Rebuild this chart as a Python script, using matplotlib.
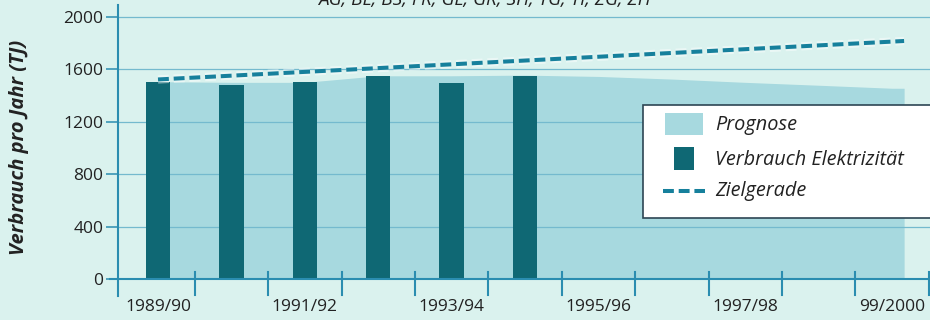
import matplotlib
matplotlib.use("Agg")
import matplotlib.pyplot as plt
from matplotlib.patches import Rectangle
from matplotlib.lines import Line2D
import matplotlib.patheffects as pe
import matplotlib.transforms as mtransforms

# ---- data -------------------------------------------------------------
seasons = ["1989/90", "1990/91", "1991/92", "1992/93", "1993/94", "1994/95",
           "1995/96", "1996/97", "1997/98", "1998/99", "1999/2000"]
tick_labels = ["1989/90", "1991/92", "1993/94", "1995/96", "1997/98", "99/2000"]
verbrauch = [1505, 1480, 1500, 1550, 1497, 1552]          # measured consumption
prognose = [1505, 1500, 1500, 1550, 1550, 1555, 1545, 1525, 1500, 1478, 1455]
ziel_start, ziel_end = 1522, 1815                          # target line
y_ticks = [0, 400, 800, 1200, 1600, 2000]
regions = "AG, BL, BS, FR, GL, GR, SH, TG, TI, ZG, ZH"

# ---- style ------------------------------------------------------------
BG = "#daf2ee"
AREA = "#a7d9df"
BAR = "#0f6874"
ZIEL = "#16809c"
GRID = "#74bace"
AXIS = "#2a8db0"
TEXT = "#222222"
FONT = "Open Sans"

W, H = 930, 320
fig = plt.figure(figsize=(W / 100, H / 100), dpi=100, facecolor=BG)


def fx(px):
    return px / W


def fy(py):
    return 1 - py / H


ax_left, ax_right, ax_top, ax_bottom = 118, 930, 5, 279.3
ax = fig.add_axes([fx(ax_left), fy(ax_bottom), fx(ax_right - ax_left),
                   (ax_bottom - ax_top) / H])
ax.set_facecolor(BG)

slot_px = 73.4
first_center = 158
ax.set_xlim((ax_left - first_center) / slot_px, (ax_right - first_center) / slot_px)
ax.set_ylim(0, 2000 + (16.7 - ax_top) / 0.13135)

x = list(range(len(seasons)))
bar_w = 0.33

# forecast area, spanning from the first bar edge to the last slot's bar edge
area_x = [x[0] - bar_w / 2] + x + [x[-1] + bar_w / 2]
area_y = [prognose[0]] + prognose + [prognose[-1]]
ax.fill_between(area_x, 0, area_y, color=AREA, lw=0, zorder=1)

# horizontal grid
for v in y_ticks[1:]:
    ax.axhline(v, color=GRID, lw=0.9, zorder=1.5)

# consumption bars
ax.bar(x[:len(verbrauch)], verbrauch, width=bar_w, color=BAR, zorder=2)

# target line
zx = [x[0], x[-1] + bar_w / 2]
ax.plot(zx, [ziel_start, ziel_end], color=ZIEL, lw=2.9, dashes=(2.7, 1.2),
        solid_capstyle="butt", dash_capstyle="butt", zorder=3,
        path_effects=[pe.Stroke(linewidth=6, foreground="white", alpha=0.45),
                      pe.Normal()])

# axes lines drawn a bit past the plotting area
for s in ax.spines.values():
    s.set_visible(False)
ax.add_line(Line2D([0, 0], [-(296 - ax_bottom) / (ax_bottom - ax_top), 1],
                   transform=ax.transAxes, color=AXIS, lw=1.5, clip_on=False, zorder=4))
ax.add_line(Line2D([-(ax_left - 110) / (ax_right - ax_left), 1], [0, 0],
                   transform=ax.transAxes, color=AXIS, lw=1.5, clip_on=False, zorder=4))

# x tick marks at season boundaries (crossing the axis)
blend = mtransforms.blended_transform_factory(ax.transData, ax.transAxes)
axh = ax_bottom - ax_top
for b in [k + 0.5 for k in x]:
    ax.add_line(Line2D([b, b], [7 / axh, -16 / axh], transform=blend,
                       color=AXIS, lw=1.5, clip_on=False, zorder=4))

# x labels on every second season
ax.set_xticks(x[::2])
ax.set_xticklabels(tick_labels, family=FONT, fontsize=12.5, color=TEXT)
ax.tick_params(axis="x", length=0, pad=14)

ax.set_yticks(y_ticks)
ax.set_yticklabels([str(v) for v in y_ticks], family=FONT, fontsize=12.5, color=TEXT)
ax.tick_params(axis="y", direction="out", length=8.6, width=1.1, color=AXIS, pad=2)

# y axis title
fig.text(fx(19), fy(147.5), "Verbrauch pro Jahr (TJ)", rotation=90,
         ha="center", va="center", family=FONT, fontsize=14.5,
         fontweight="bold", fontstyle="italic", color=TEXT)

# region list above the chart
fig.text(fx(484), fy(5), regions, ha="center", va="baseline",
         family=FONT, fontsize=13.7, fontstyle="italic", color=TEXT)

# legend box
fig.add_artist(Rectangle((fx(643), fy(218)), fx(940 - 643), (218 - 105) / H,
                         transform=fig.transFigure, facecolor="white",
                         edgecolor="#2d4654", lw=1.2, zorder=10))
fig.add_artist(Rectangle((fx(665), fy(135)), fx(38), 22 / H,
                         transform=fig.transFigure, facecolor=AREA, lw=0, zorder=11))
fig.add_artist(Rectangle((fx(674), fy(170)), fx(20), 23 / H,
                         transform=fig.transFigure, facecolor=BAR, lw=0, zorder=11))
fig.add_artist(Line2D([fx(663), fx(705)], [fy(191), fy(191)],
                      transform=fig.transFigure, color=ZIEL, lw=2.9,
                      dashes=(2.7, 1.2), dash_capstyle="butt", zorder=11))
for label, base in [("Prognose", 130), ("Verbrauch Elektrizität", 165),
                    ("Zielgerade", 196)]:
    fig.text(fx(715), fy(base), label, ha="left", va="baseline", family=FONT,
             fontsize=14.3, fontstyle="italic", color=TEXT, zorder=12)

fig.savefig("out.png", dpi=100, facecolor=BG)
